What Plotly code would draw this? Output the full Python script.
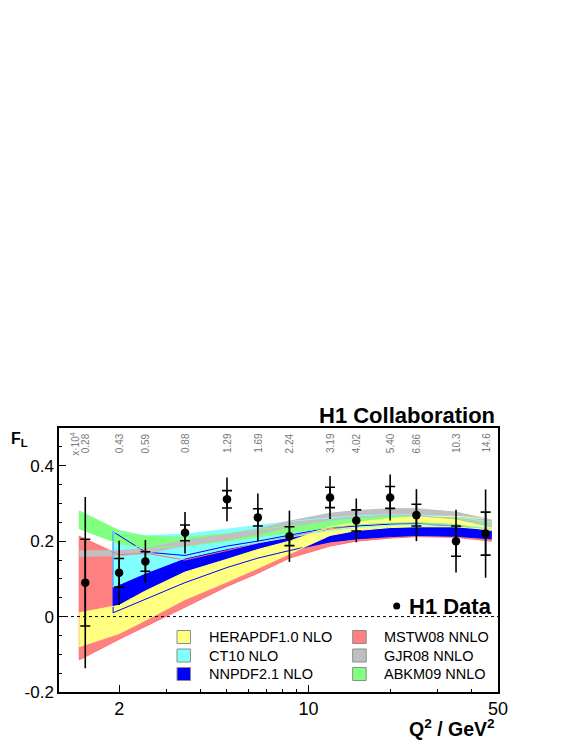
import numpy as np
import plotly.graph_objects as go

# ---------------- data ----------------
Q2 = [1.5, 2, 2.5, 3.5, 5, 6.5, 8.5, 12, 15, 20, 25, 35, 45]
X_LABELS = ["0.28", "0.43", "0.59", "0.88", "1.29", "1.69", "2.24",
            "3.19", "4.02", "5.40", "6.86", "10.3", "14.6"]
FL = [0.090, 0.116, 0.146, 0.222, 0.311, 0.263, 0.213, 0.316, 0.255, 0.316, 0.269, 0.200, 0.220]
ERR_STAT = [0.115, 0.038, 0.026, 0.021, 0.023, 0.023, 0.025, 0.027, 0.028, 0.029, 0.029, 0.040, 0.057]
ERR_TOT = [0.227, 0.085, 0.057, 0.055, 0.058, 0.063, 0.068, 0.057, 0.058, 0.061, 0.069, 0.083, 0.117]

# band nodes (Q2) for predictions
BAND_Q2 = [1.425, 2, 2.5, 3.5, 5, 6.5, 8.5, 12, 15, 20, 25, 35, 47.25]
BAND_Q2_HI = [1.9, 2.5, 3.5, 5, 6.5, 8.5, 12, 15, 20, 25, 35, 47.25]

MSTW_LO = [-0.115, -0.060, -0.025, 0.025, 0.080, 0.115, 0.155, 0.187, 0.200, 0.208, 0.212, 0.210, 0.200]
MSTW_HI = [0.213, 0.164, 0.168, 0.150, 0.175, 0.195, 0.212, 0.232, 0.240, 0.246, 0.248, 0.243, 0.230]

HERA_LO = [-0.080, -0.045, -0.010, 0.045, 0.092, 0.128, 0.165, 0.215, 0.228, 0.236, 0.238, 0.238, 0.230]
HERA_HI = [0.010, 0.030, 0.068, 0.118, 0.152, 0.178, 0.200, 0.238, 0.250, 0.260, 0.265, 0.266, 0.258]

CT10_LO = [0.078, 0.115, 0.155, 0.180, 0.196, 0.210, 0.228, 0.236, 0.242, 0.244, 0.242, 0.234]
CT10_HI = [0.224, 0.215, 0.218, 0.232, 0.242, 0.252, 0.262, 0.267, 0.270, 0.270, 0.264, 0.250]

NNPDF_LO = [0.010, 0.045, 0.090, 0.130, 0.155, 0.175, 0.198, 0.206, 0.212, 0.215, 0.213, 0.206]
NNPDF_HI = [0.225, 0.171, 0.162, 0.187, 0.200, 0.216, 0.236, 0.240, 0.245, 0.246, 0.240, 0.226]

GJR_LO = [0.160, 0.161, 0.167, 0.188, 0.204, 0.218, 0.237, 0.256, 0.263, 0.268, 0.268, 0.259, 0.238]
GJR_HI = [0.174, 0.175, 0.181, 0.202, 0.218, 0.232, 0.253, 0.274, 0.281, 0.286, 0.286, 0.277, 0.256]

ABKM_LO = [0.233, 0.193, 0.182, 0.186, 0.200, 0.210, 0.222, 0.236, 0.243, 0.248, 0.249, 0.244, 0.228]
ABKM_HI = [0.280, 0.228, 0.213, 0.210, 0.220, 0.230, 0.242, 0.254, 0.261, 0.266, 0.267, 0.260, 0.244]

MODELS = ["HERAPDF1.0 NLO", "CT10 NLO", "NNPDF2.1 NLO", "MSTW08 NNLO", "GJR08 NNLO", "ABKM09 NNLO"]

# ---------------- styles ----------------
COL = {
    "HERAPDF1.0 NLO": "#ffff80",
    "CT10 NLO": "#80ffff",
    "NNPDF2.1 NLO": "#0000ff",
    "MSTW08 NNLO": "#ff8080",
    "GJR08 NNLO": "#c0c0c0",
    "ABKM09 NNLO": "#80ff80",
}
LINECOL = {
    "HERAPDF1.0 NLO": "#ffff80",
    "CT10 NLO": "#80ffff",
    "NNPDF2.1 NLO": "#0000ff",
    "MSTW08 NNLO": "#ff7070",
    "GJR08 NNLO": "#c0c0c0",
    "ABKM09 NNLO": "#80ff80",
}

bands = {
    "MSTW08 NNLO": (BAND_Q2, MSTW_LO, MSTW_HI),
    "NNPDF2.1 NLO": (BAND_Q2_HI, NNPDF_LO, NNPDF_HI),
    "CT10 NLO": (BAND_Q2_HI, CT10_LO, CT10_HI),
    "HERAPDF1.0 NLO": (BAND_Q2, HERA_LO, HERA_HI),
    "GJR08 NNLO": (BAND_Q2, GJR_LO, GJR_HI),
    "ABKM09 NNLO": (BAND_Q2, ABKM_LO, ABKM_HI),
}
DRAW_ORDER = ["MSTW08 NNLO", "NNPDF2.1 NLO", "CT10 NLO", "ABKM09 NNLO", "HERAPDF1.0 NLO", "GJR08 NNLO"]

FONT = "Liberation Sans, Arial, Helvetica, sans-serif"

fig = go.Figure()


def poly(q, lo, hi):
    xs = list(q) + list(q)[::-1] + [q[0]]
    ys = list(hi) + list(lo)[::-1] + [hi[0]]
    return xs, ys


for name in DRAW_ORDER:
    q, lo, hi = bands[name]
    xs, ys = poly(q, lo, hi)
    fig.add_trace(go.Scatter(x=xs, y=ys, mode="lines", fill="toself",
                             fillcolor=COL[name], line=dict(width=0),
                             hoverinfo="skip", showlegend=False))

for name in DRAW_ORDER:
    q, lo, hi = bands[name]
    xs, ys = poly(q, lo, hi)
    fig.add_trace(go.Scatter(x=xs, y=ys, mode="lines",
                             line=dict(width=1, color=LINECOL[name]),
                             hoverinfo="skip", showlegend=False))

# data: statistical error caps
fig.add_trace(go.Scatter(x=Q2, y=FL, mode="markers",
                         marker=dict(size=1, color="rgba(0,0,0,0)"),
                         error_y=dict(type="data", array=ERR_STAT, width=5,
                                      thickness=1.6, color="black"),
                         hoverinfo="skip", showlegend=False))
# data: total errors and points
fig.add_trace(go.Scatter(x=Q2, y=FL, mode="markers",
                         marker=dict(size=8.5, color="black"),
                         error_y=dict(type="data", array=ERR_TOT, width=0,
                                      thickness=1.6, color="black"),
                         hoverinfo="skip", showlegend=False))

# ---------------- layout ----------------
OFF = 8  # page body margin
W, H = 581 - OFF, 752 - OFF
L, T = 59 - OFF, 428 - OFF
R, B = 83, 60
pw = W - L - R
ph = H - T - B


def px2paper_x(px):
    return (px - OFF - L) / pw


def px2paper_y(py):
    return (H - B - (py - OFF)) / ph


ann = []
# top x-value labels
ann.append(dict(x=np.log10(Q2[0]), y=1, xref="x", yref="paper", xshift=-11, yshift=-3,
                text="x\u00b710<sup>4</sup>", textangle=-90, showarrow=False,
                xanchor="center", yanchor="top",
                font=dict(family=FONT, size=10, color="#777777")))
for q, lab in zip(Q2, X_LABELS):
    ann.append(dict(x=np.log10(q), y=1, xref="x", yref="paper", yshift=-3,
                    text=lab, textangle=-90, showarrow=False,
                    xanchor="center", yanchor="top",
                    font=dict(family=FONT, size=10, color="#777777")))

ann.append(dict(x=1, y=1, xref="paper", yref="paper", xanchor="right", yanchor="bottom",
                text="<b>H1 Collaboration</b>", showarrow=False, yshift=-2, xshift=-1,
                font=dict(family=FONT, size=22, color="black")))
ann.append(dict(x=px2paper_x(8.5), y=px2paper_y(428), xref="paper", yref="paper",
                xanchor="left", yanchor="top", text="<b>F<sub>L</sub></b>", showarrow=False,
                font=dict(family=FONT, size=16, color="black")))
ann.append(dict(x=1, y=px2paper_y(742), xref="paper", yref="paper",
                xanchor="right", yanchor="bottom", text="<b>Q<sup>2</sup> / GeV<sup>2</sup></b>",
                showarrow=False, xshift=-1, font=dict(family=FONT, size=19.5, color="black")))
ann.append(dict(x=px2paper_x(494), y=px2paper_y(606), xref="paper", yref="paper",
                xanchor="right", yanchor="middle", text="<b>H1 Data</b>",
                showarrow=False, font=dict(family=FONT, size=22, color="black")))

shapes = []
# zero line
shapes.append(dict(type="line", xref="paper", yref="y", x0=0, x1=1, y0=0, y1=0,
                   line=dict(color="black", width=1, dash="dot"), layer="above"))
# H1 data dot
cx, cy = 396.7, 606
shapes.append(dict(type="circle", xref="paper", yref="paper",
                   x0=px2paper_x(cx - 3.5), x1=px2paper_x(cx + 3.5),
                   y0=px2paper_y(cy + 3.5), y1=px2paper_y(cy - 3.5),
                   fillcolor="black", line=dict(width=0)))

# legend (manual, two columns)
col_box_x = [177, 352.7]
col_txt_x = [206.7, 381.7]
row_y = [637, 655.5, 674]
for i, name in enumerate(MODELS):
    c = i // 3
    r = i % 3
    bx = col_box_x[c]
    by = row_y[r]
    shapes.append(dict(type="rect", xref="paper", yref="paper",
                       x0=px2paper_x(bx), x1=px2paper_x(bx + 13.5),
                       y0=px2paper_y(by + 6.5), y1=px2paper_y(by - 6.5),
                       fillcolor=COL[name], line=dict(color="#8c8c8c", width=1)))
    ann.append(dict(x=px2paper_x(col_txt_x[c]), y=px2paper_y(by), xref="paper", yref="paper",
                    xanchor="left", yanchor="middle", text=name, showarrow=False,
                    font=dict(family=FONT, size=14.5, color="black")))

fig.update_layout(
    width=W, height=H,
    margin=dict(l=L, r=R, t=T, b=B, pad=0),
    paper_bgcolor="white", plot_bgcolor="white",
    font=dict(family=FONT, size=17, color="black"),
    showlegend=False,
    annotations=ann, shapes=shapes,
    xaxis=dict(type="log", range=[np.log10(1.2), np.log10(50)],
               tickvals=[2, 10, 50], ticktext=["2", "10", "50"],
               ticks="inside", ticklen=7, tickwidth=1, tickcolor="black",
               minor=dict(tickvals=[3, 4, 5, 6, 7, 8, 9, 20, 30, 40], ticks="inside",
                          ticklen=3.5, tickwidth=1, tickcolor="black"),
               showline=True, linecolor="black", linewidth=1.5, mirror=True,
               showgrid=False, zeroline=False,
               tickfont=dict(family=FONT, size=18)),
    yaxis=dict(range=[-0.2, 0.5], tickvals=[-0.2, 0, 0.2, 0.4],
               ticktext=["-0.2", "0", "0.2", "0.4"],
               ticks="inside", ticklen=7, tickwidth=1, tickcolor="black",
               minor=dict(dtick=0.05, ticks="inside", ticklen=3.5, tickwidth=1,
                          tickcolor="black"),
               showline=True, linecolor="black", linewidth=1.5, mirror=True,
               showgrid=False, zeroline=False,
               tickfont=dict(family=FONT, size=17)),
)

fig.write_html("out.html")
